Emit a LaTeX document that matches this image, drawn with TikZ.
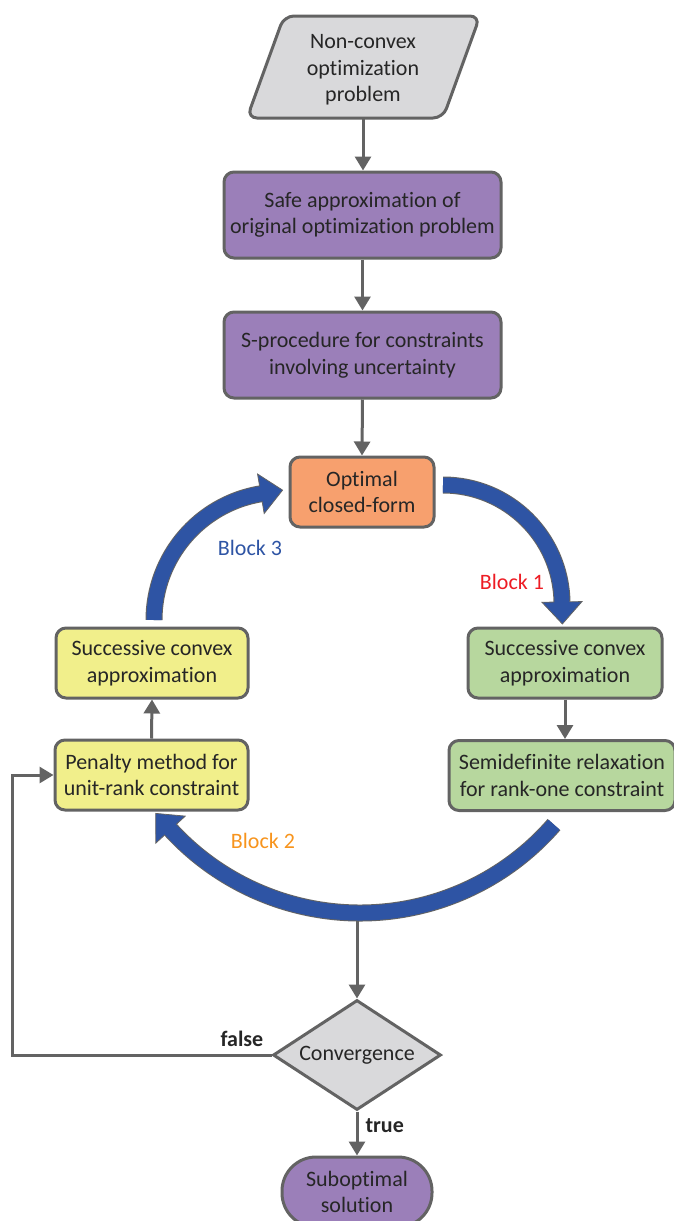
\documentclass[tikz,border=0pt]{standalone}
\usepackage{fontspec}
\setmainfont{Carlito}[Ligatures=NoCommon]
\usetikzlibrary{arrows.meta,shapes.geometric,calc}

\definecolor{edgegray}{RGB}{99,99,99}
\definecolor{inkdark}{RGB}{38,38,38}
\definecolor{greyfill}{RGB}{217,217,219}
\definecolor{purplefill}{RGB}{155,127,185}
\definecolor{orangefill}{RGB}{247,160,110}
\definecolor{yellowfill}{RGB}{241,239,139}
\definecolor{greenfill}{RGB}{183,215,158}
\definecolor{loopblue}{RGB}{46,84,164}
\definecolor{blockred}{RGB}{237,28,36}
\definecolor{blockorange}{RGB}{247,148,29}

% thick curved loop arrow: centre, radius, start angle, angle of the head base
\newcommand\loopArrow[4]{%
  \draw[line width=17pt, edgegray] ($(#1)+(#3:#2pt)$) arc[start angle=#3, end angle=#4, radius=#2pt];
  \filldraw[fill=loopblue, draw=edgegray, line width=0.8pt, line join=miter]
    ($(#1)+(#4:#2pt+20pt)$) -- ($(#1)+(#4:#2pt)+(#4-90:22pt)$) -- ($(#1)+(#4:#2pt-20pt)$) -- cycle;
  \draw[line width=15pt, loopblue] ($(#1)+(#3:#2pt)$) arc[start angle=#3, end angle=#4-1, radius=#2pt];
}

\begin{document}
\begin{tikzpicture}[x=1pt, y=-1pt,
  every node/.style={font=\fontsize{22}{26.5}\selectfont, text=inkdark},
  box/.style={draw=edgegray, line width=3pt, rounded corners=10pt, align=center, inner sep=0pt},
  purplebox/.style={box, fill=purplefill},
  yellowbox/.style={box, fill=yellowfill, minimum height=70pt},
  greenbox/.style={box, fill=greenfill, minimum height=70pt},
  flow/.style={draw=edgegray, line width=3pt, -{Triangle[width=16pt,length=14pt]}},
  flag/.style={font=\fontsize{22}{26.5}\selectfont\bfseries, inner sep=2pt},
  blocklabel/.style={inner sep=2pt}
]
\useasboundingbox (0,0) rectangle (673,1221);

% input parallelogram
\draw[draw=edgegray, fill=greyfill, line width=3pt, rounded corners=10pt]
  (284,16) -- (480,16) -- (443,118) -- (247,118) -- cycle;
\node (start) [minimum width=196pt, minimum height=100pt, inner sep=0pt, align=center] at (363,70)
  {Non-convex\\optimization\\problem};

% main chain
\node (s1) [purplebox, minimum width=277pt, minimum height=86pt] at (362.5,215)
  {Safe approximation of\\original optimization problem};
\node (s2) [purplebox, minimum width=277pt, minimum height=86pt] at (362.5,355)
  {S-procedure for constraints\\involving uncertainty};
\node (opt) [box, fill=orangefill, minimum width=144pt, minimum height=70pt] at (362,492)
  {Optimal\\closed-form};

% the three blocks
\node (y1) [yellowbox, minimum width=192pt] at (152,663) {Successive convex\\approximation};
\node (y2) [yellowbox, minimum width=193pt] at (151.5,775) {Penalty method for\\unit-rank constraint};
\node (g1) [greenbox, minimum width=194pt] at (565,663) {Successive convex\\approximation};
\node (g2) [greenbox, minimum width=226pt] at (562,775.5) {Semidefinite relaxation\\for rank-one constraint};

% decision and end
\node (conv) [diamond, draw=edgegray, fill=greyfill, line width=3pt, aspect=1.53,
  minimum width=168pt, minimum height=110pt, inner sep=1pt] at (357,1055) {Convergence};
\node (sub) [box, fill=purplefill, rounded corners=34pt, minimum width=150pt, minimum height=70pt]
  at (357,1192) {Suboptimal\\solution};

\coordinate (loopbot) at (357,913);

% connectors
\draw[flow] (start.south) ++(0,-2) -- (start.south |- s1.north);
\draw[flow] (s1.south) -- (s2.north);
\draw[flow] (s2.south) -- (opt.north);
\draw[flow] (y2.north) -- (y1.south);
\draw[flow] (g1.south) -- (g1.south |- g2.north);
\draw[flow] (loopbot) -- (conv.north);
\draw[flow] (conv.south) -- (sub.north)
  node[flag, pos=0.33, anchor=west, xshift=5pt] {true};
\draw[flow] (conv.west) -- ++(-259,0) |- (y2.west);
\node[flag, anchor=south east, xshift=-6pt, yshift=6pt] (falsetag) at (conv.west) {false};

% curved loop arrows
\coordinate (c1) at (443,604);
\coordinate (c2) at (360,656);
\coordinate (c3) at (282,620);
\loopArrow{c1}{119}{90}{1}
\loopArrow{c2}{257}{-41}{-137.5}
\loopArrow{c3}{128}{180}{99.5}

\node[blocklabel, text=loopblue] (b3) at (250,548) {Block 3};
\node[blocklabel, text=blockred] (b1) at (512,582) {Block 1};
\node[blocklabel, text=blockorange] (b2) at (263,841) {Block 2};
\end{tikzpicture}
\end{document}
